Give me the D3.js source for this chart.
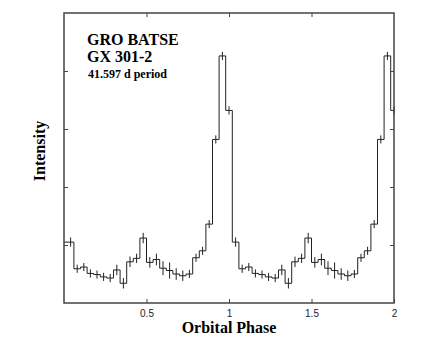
<!DOCTYPE html>
<html lang="en">
<head>
  <meta charset="utf-8">
  <title>GX 301-2 folded light curve</title>
  <script type="text/javascript" src="https://d3js.org/d3.v7.min.js"></script>
  <style>
    body { margin: 0; background: #fff; }
    .serif { font-family: "Liberation Serif", "Times New Roman", serif; font-weight: bold; fill: #000; }
    .tick text { font-family: "Liberation Sans", Arial, sans-serif; font-size: 10px; fill: #222; }
  </style>
</head>
<body>
  <script type="text/javascript">
    var w = 425;
    var h = 353;

    // phase bin centres of one cycle (0.04 wide), intensities and 1-sigma errors
    var phases = [0.04, 0.08, 0.12, 0.16, 0.20, 0.24, 0.28, 0.32, 0.36, 0.40,
                  0.44, 0.48, 0.52, 0.56, 0.60, 0.64, 0.68, 0.72, 0.76, 0.80,
                  0.84, 0.88, 0.92, 0.96, 1.00];
    var intensity = [1.05, 0.59, 0.62, 0.51, 0.49, 0.45, 0.43, 0.57, 0.34, 0.71,
                     0.77, 1.12, 0.70, 0.75, 0.60, 0.56, 0.50, 0.47, 0.50, 0.78,
                     0.90, 1.36, 2.82, 4.26, 3.32];
    var errors = [0.08, 0.07, 0.07, 0.07, 0.07, 0.07, 0.07, 0.09, 0.09, 0.09,
                  0.08, 0.09, 0.09, 0.10, 0.12, 0.14, 0.10, 0.09, 0.07, 0.07,
                  0.07, 0.07, 0.07, 0.07, 0.07];
    var binWidth = 0.04;
    var xTicks = [0.5, 1, 1.5, 2];
    var yTicks = [1, 2, 3, 4];

    // two cycles, same data shifted by one in phase
    var bins = [];
    [0, 1].forEach(function(c) {
      phases.forEach(function(p, i) {
        bins.push({ phase: p + c, value: intensity[i], err: errors[i] });
      });
    });

    var svg = d3.select("body").append("svg")
      .attr("width", w)
      .attr("height", h)
      .style("background-color", "#ffffff");

    var x = d3.scaleLinear().domain([0, 2]).range([64, 394]);
    var y = d3.scaleLinear().domain([0, 5]).range([303, 13]);

    // step outline
    var pts = [];
    bins.forEach(function(d, i) {
      var x0 = i === 0 ? 0 : d.phase - binWidth / 2;
      var x1 = Math.min(2, d.phase + binWidth / 2);
      pts.push([x0, d.value], [x1, d.value]);
    });
    var line = d3.line()
      .x(function(d) { return x(d[0]); })
      .y(function(d) { return y(d[1]); });

    svg.append("path")
      .attr("d", line(pts))
      .attr("fill", "none")
      .attr("stroke", "#222")
      .attr("stroke-width", 1);

    // error bars
    svg.selectAll("line.err")
      .data(bins)
      .enter()
      .append("line")
      .attr("class", "err")
      .attr("x1", function(d) { return x(d.phase); })
      .attr("x2", function(d) { return x(d.phase); })
      .attr("y1", function(d) { return y(d.value - d.err); })
      .attr("y2", function(d) { return y(d.value + d.err); })
      .attr("stroke", "#222")
      .attr("stroke-width", 1);

    // axes with inward ticks
    svg.append("g")
      .attr("transform", "translate(0,303)")
      .call(d3.axisBottom(x).tickValues(xTicks).tickSize(-4).tickPadding(7)
        .tickFormat(function(d) { return d3.format("")(d); }))
      .call(function(g) { g.select(".domain").remove(); });
    svg.append("g")
      .attr("transform", "translate(0,13)")
      .call(d3.axisTop(x).tickValues([0.5, 1, 1.5]).tickSize(-4).tickFormat(""))
      .call(function(g) { g.select(".domain").remove(); });
    svg.append("g")
      .attr("transform", "translate(64,0)")
      .call(d3.axisLeft(y).tickValues(yTicks).tickSize(-4).tickFormat(""))
      .call(function(g) { g.select(".domain").remove(); });
    svg.append("g")
      .attr("transform", "translate(394,0)")
      .call(d3.axisRight(y).tickValues(yTicks).tickSize(-4).tickFormat(""))
      .call(function(g) { g.select(".domain").remove(); });
    svg.selectAll(".tick line").attr("stroke", "#444");

    // frame
    svg.append("rect")
      .attr("x", 64).attr("y", 13)
      .attr("width", 330).attr("height", 290)
      .attr("fill", "none")
      .attr("stroke", "#444")
      .attr("stroke-width", 1.5);

    // labels
    svg.append("text").attr("class", "serif")
      .attr("x", 87).attr("y", 45).style("font-size", "16px").text("GRO BATSE");
    svg.append("text").attr("class", "serif")
      .attr("x", 87).attr("y", 62).style("font-size", "16px").text("GX 301-2");
    svg.append("text").attr("class", "serif")
      .attr("x", 88).attr("y", 78).style("font-size", "12px").text("41.597 d period");

    svg.append("text").attr("class", "serif")
      .attr("x", 229).attr("y", 333)
      .attr("text-anchor", "middle")
      .style("font-size", "16px")
      .text("Orbital Phase");
    svg.append("text").attr("class", "serif")
      .attr("transform", "translate(45,151) rotate(-90)")
      .attr("text-anchor", "middle")
      .style("font-size", "16px")
      .text("Intensity");
  </script>
</body>
</html>
